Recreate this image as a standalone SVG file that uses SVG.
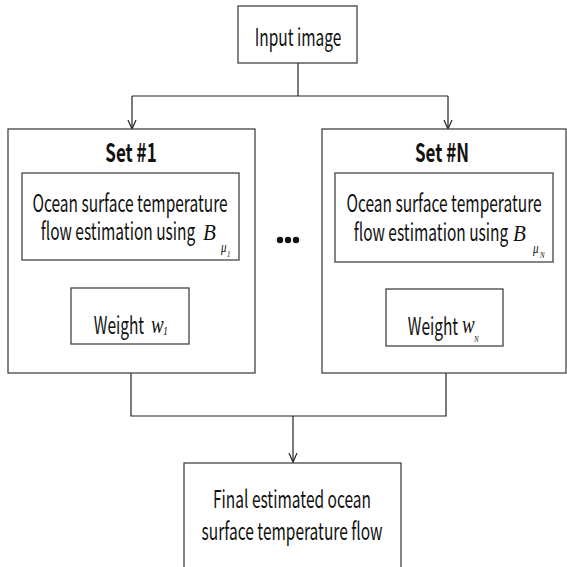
<svg xmlns="http://www.w3.org/2000/svg" width="567" height="567" viewBox="0 0 567 567">
<style>
.box{fill:#fff;stroke:#444;stroke-width:1.3}
.t{font-family:"Noto Sans CJK KR","Noto Sans",sans-serif;font-size:15.5px;fill:#111;text-anchor:middle}
.b{font-family:"Noto Sans CJK KR","Noto Sans",sans-serif;font-size:17px;font-weight:bold;fill:#111;text-anchor:middle}
.m{font-family:"Liberation Serif",serif;font-style:italic;fill:#111}
.c{fill:none;stroke:#222;stroke-width:1.2}
</style>
<defs>
<marker id="ah" markerWidth="10" markerHeight="10" refX="9" refY="5" orient="auto" markerUnits="userSpaceOnUse" viewBox="0 0 10 10">
<path d="M0,1 L9,5 L0,9" fill="none" stroke="#222" stroke-width="1.2"/>
</marker>
</defs>
<rect width="567" height="567" fill="#fff"/>
<g id="connectors">
<path class="c" d="M298,63 V96 M132,96 H448"/>
<path class="c" d="M132,96 V129" marker-end="url(#ah)"/>
<path class="c" d="M448,96 V129" marker-end="url(#ah)"/>
<path class="c" d="M131,260 V288" marker-end="url(#ah)"/>
<path class="c" d="M444,262 V289" marker-end="url(#ah)"/>
<path class="c" d="M131,373 V416 H446 V373"/>
<path class="c" d="M293,416 V462" marker-end="url(#ah)"/>
</g>
<g id="input">
<rect class="box" x="238" y="6" width="119" height="57"/>
<text class="t" transform="translate(298,46) scale(1,1.55)">Input image</text>
</g>
<g id="set1">
<rect class="box" x="8" y="129" width="247" height="244"/>
<text class="b" transform="translate(131,162) scale(1,1.5)">Set #1</text>
</g>
<g id="est1">
<rect class="box" x="22" y="173" width="217" height="87"/>
<text class="t" transform="translate(130,212) scale(1,1.55)">Ocean surface temperature</text>
<text class="t" transform="translate(118,240) scale(1,1.55)">flow estimation using</text>
<text class="m" transform="translate(203,240) scale(1,1.1)" font-size="21">B</text>
<text class="m" transform="translate(221,252) scale(1,1.3)" font-size="11">μ</text>
<text class="m" transform="translate(227,257) scale(1,1.3)" font-size="7" font-style="normal">1</text>
</g>
<g id="w1">
<rect class="box" x="71" y="288" width="118" height="56"/>
<text class="t" transform="translate(119,334) scale(1,1.55)">Weight</text>
<text class="m" transform="translate(151,333) scale(1,1.35)" font-size="19">w</text>
<text class="m" transform="translate(163,335) scale(1,1.3)" font-size="10" font-style="normal">1</text>
</g>
<g id="dots">
<circle cx="280" cy="240" r="3.2" fill="#111"/>
<circle cx="288" cy="240" r="3.2" fill="#111"/>
<circle cx="296" cy="240" r="3.2" fill="#111"/>
</g>
<g id="setN">
<rect class="box" x="322" y="129" width="244" height="244"/>
<text class="b" transform="translate(442,162) scale(1,1.5)">Set #N</text>
</g>
<g id="estN">
<rect class="box" x="335" y="173" width="218" height="89"/>
<text class="t" transform="translate(444,212) scale(1,1.55)">Ocean surface temperature</text>
<text class="t" transform="translate(431,241) scale(1,1.55)">flow estimation using</text>
<text class="m" transform="translate(513,241) scale(1,1.1)" font-size="21">B</text>
<text class="m" transform="translate(533,253) scale(1,1.3)" font-size="11">μ</text>
<text class="m" transform="translate(540,258) scale(1,1.3)" font-size="7">N</text>
</g>
<g id="wN">
<rect class="box" x="386" y="289" width="117" height="57"/>
<text class="t" transform="translate(433,335) scale(1,1.55)">Weight</text>
<text class="m" transform="translate(462,333) scale(1,1.35)" font-size="19">w</text>
<text class="m" transform="translate(474,342) scale(1,1.3)" font-size="7">N</text>
</g>
<g id="final">
<rect class="box" x="184" y="463" width="217" height="110"/>
<text class="t" transform="translate(292,508) scale(1,1.55)">Final estimated ocean</text>
<text class="t" transform="translate(292,540) scale(1,1.55)">surface temperature flow</text>
</g>
</svg>
